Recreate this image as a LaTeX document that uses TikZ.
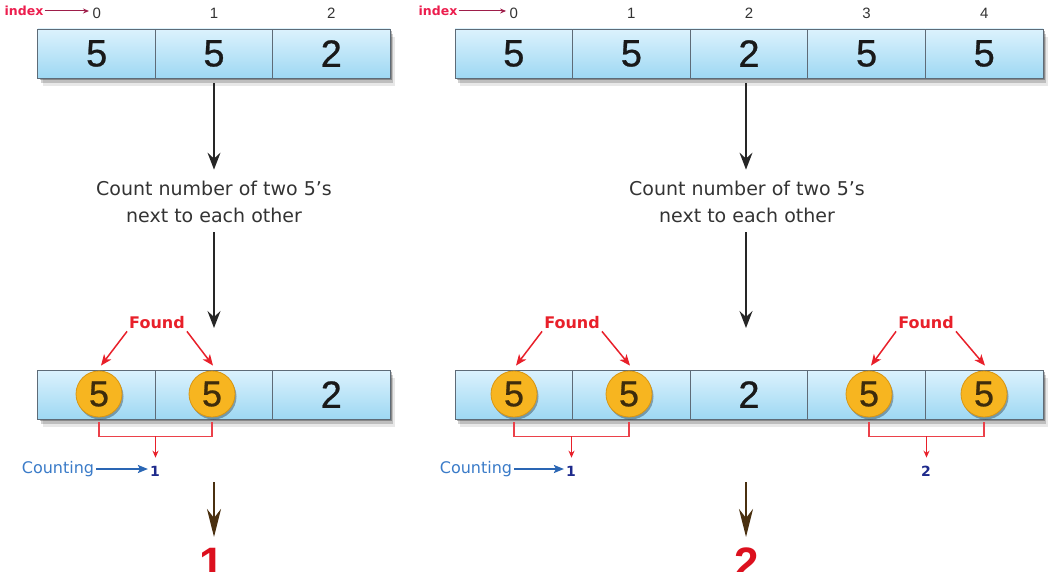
\documentclass[tikz,border=0pt]{standalone}
\usepackage{fontspec}
\setmainfont{Liberation Sans}
\newfontfamily\dv{DejaVu Sans}
\newfontfamily\digitfont[FakeBold=0.7]{Liberation Sans}
\usetikzlibrary{arrows.meta,shadows,calc}
\definecolor{celltop}{HTML}{DCF2FD}
\definecolor{cellbot}{HTML}{9ED8F3}
\definecolor{cellline}{HTML}{5E6B77}
\definecolor{coin}{HTML}{F7B520}
\definecolor{coinline}{HTML}{D99612}
\definecolor{coindigit}{HTML}{3E2C0C}
\definecolor{fred}{HTML}{E8202A}
\definecolor{idxred}{HTML}{EC1E4E}
\definecolor{idxarrow}{HTML}{9E1E4A}
\definecolor{cblue}{HTML}{3A7BC8}
\definecolor{cbluearr}{HTML}{2A66B4}
\definecolor{cnavy}{HTML}{1E2A8C}
\definecolor{brownarrow}{HTML}{4A3010}
\definecolor{resred}{HTML}{DC101E}
\definecolor{txtgray}{HTML}{333333}
\begin{document}
\begin{tikzpicture}[x=1pt,y=-1pt,
  cell/.style={draw=cellline, line width=0.9pt, top color=celltop, bottom color=cellbot,
    minimum width=117.6pt, minimum height=49pt, inner sep=0pt, font=\digitfont\fontsize{38}{38}\selectfont, text=black!90},
  arrbox/.style={fill=white, inner sep=0pt, minimum height=49pt,
    general shadow={shadow xshift=2pt, shadow yshift=-2pt, fill=black, opacity=0.28},
    general shadow={shadow xshift=3pt, shadow yshift=-5pt, fill=black, opacity=0.18},
    general shadow={shadow xshift=5pt, shadow yshift=-8pt, fill=black, opacity=0.09}},
  idx/.style={font=\fontsize{15}{15}\selectfont, text=txtgray},
  idxlabel/.style={font=\dv\bfseries\fontsize{12.5}{12.5}\selectfont, text=idxred, inner sep=1pt},
  idxarr/.style={draw=idxarrow, line width=1pt, -{Stealth[length=6pt,width=5pt]}},
  coinst/.style={circle, draw=coinline, line width=0.8pt, fill=coin, minimum size=46pt, inner sep=0pt,
    font=\digitfont\fontsize{36}{36}\selectfont, text=coindigit,
    general shadow={shadow xshift=1.5pt, shadow yshift=-2.5pt, fill=black, opacity=0.3}},
  counttext/.style={font=\dv\fontsize{19}{27}\selectfont, text=txtgray, align=center},
  blk/.style={draw=black!85, line width=1.6pt, -{Stealth[length=17pt,width=13pt,inset=6pt]}},
  found/.style={font=\dv\bfseries\fontsize{16}{16}\selectfont, text=fred, inner sep=2pt},
  redarr/.style={draw=fred, line width=1.5pt, -{Stealth[length=11pt,width=9pt,inset=3pt]}},
  bracket/.style={draw=fred!85, line width=1.2pt},
  redsmall/.style={draw=fred, line width=1.2pt, -{Stealth[length=7pt,width=6pt]}},
  counting/.style={font=\dv\fontsize{16}{16}\selectfont, text=cblue, inner sep=2pt},
  bluearr/.style={draw=cbluearr, line width=2pt, -{Stealth[length=10pt,width=8pt,inset=2pt]}},
  cnt/.style={font=\dv\bfseries\fontsize{14}{14}\selectfont, text=cnavy, inner sep=2pt},
  brownarr/.style={draw=brownarrow, line width=2.6pt, -{Stealth[length=28pt,width=14pt,inset=9pt]}},
  result/.style={font=\bfseries\fontsize{44}{44}\selectfont, text=resred, inner sep=0pt, anchor=base}
]
\useasboundingbox (0,0) rectangle (1051,572);
\clip (0,0) rectangle (1051,572);

% ================= LEFT =================
\node[idxlabel] (ixL) at (24,11) {index};
\node[idx] (iL0) at (96.7,13) {0};
\node[idx] (iL1) at (214,13) {1};
\node[idx] (iL2) at (331.3,13) {2};
\draw[idxarr] (ixL.east) -- (ixL.east -| iL0.west);

\node[arrbox, minimum width=352pt] (LboxT) at (214,53.5) {};
\node[cell] (L0) at (96.7,53.5) {5};
\node[cell] (L1) at (214,53.5) {5};
\node[cell] (L2) at (331.3,53.5) {2};

\node[counttext] (tL) at (214,202) {Count number of two 5’s\\next to each other};
\coordinate (tipL) at (214,328);
\draw[blk] ($(L1.south)+(0,5)$) -- ($(tL.north)+(0,-8)$);
\draw[blk] ($(tL.south)+(0,6)$) -- (tipL);

\node[arrbox, minimum width=352pt] (LboxB) at (214,394.5) {};
\node[cell] (LB0) at (96.7,394.5) {};
\node[cell] (LB1) at (214,394.5) {};
\node[cell] (LB2) at (331.3,394.5) {2};
\node[coinst] (cL0) at (99,394) {5};
\node[coinst] (cL1) at (212,394) {5};

\node[found] (fL) at (157,323) {Found};
\draw[redarr] (fL.south west) -- ($(cL0.north)+(2,-5)$);
\draw[redarr] (fL.south east) -- ($(cL1.north)+(1,-5)$);

\draw[bracket] ($(cL0.south)+(0,5)$) |- coordinate[pos=0.75] (bmL) ($(cL1.south)+(0,19)$) -- ($(cL1.south)+(0,5)$);
\node[counting] (kL) at (58,469) {Counting};
\node[cnt] (nL) at (155,471) {1};
\draw[redsmall] (bmL) -- ($(bmL |- nL.north)+(0,-6)$);
\draw[bluearr] (kL.east) -- (kL.east -| nL.west);

\coordinate (bLs) at (214,482);
\coordinate (bLe) at (214,537);
\draw[brownarr] (bLs) -- (bLe);
\node[result] (rL) at (212,578) {1};

% ================= RIGHT =================
\node[idxlabel] (ixR) at (438,11) {index};
\node[idx] (iR0) at (513.8,13) {0};
\node[idx] (iR1) at (631.4,13) {1};
\node[idx] (iR2) at (749,13) {2};
\node[idx] (iR3) at (866.6,13) {3};
\node[idx] (iR4) at (984.2,13) {4};
\draw[idxarr] (ixR.east) -- (ixR.east -| iR0.west);

\node[arrbox, minimum width=588pt] (RboxT) at (749,53.5) {};
\node[cell] (R0) at (513.8,53.5) {5};
\node[cell] (R1) at (631.4,53.5) {5};
\node[cell] (R2) at (749,53.5) {2};
\node[cell] (R3) at (866.6,53.5) {5};
\node[cell] (R4) at (984.2,53.5) {5};

\node[counttext] (tR) at (747,202) {Count number of two 5’s\\next to each other};
\coordinate (tipR) at (746,328);
\draw[blk] ($(R2.south)+(-3,5)$) -- ($(tR.north)+(-1,-8)$);
\draw[blk] ($(tR.south)+(-1,6)$) -- (tipR);

\node[arrbox, minimum width=588pt] (RboxB) at (749,394.5) {};
\node[cell] (RB0) at (513.8,394.5) {};
\node[cell] (RB1) at (631.4,394.5) {};
\node[cell] (RB2) at (749,394.5) {2};
\node[cell] (RB3) at (866.6,394.5) {};
\node[cell] (RB4) at (984.2,394.5) {};
\node[coinst] (cR0) at (514,394) {5};
\node[coinst] (cR1) at (629,394) {5};
\node[coinst] (cR3) at (869,394) {5};
\node[coinst] (cR4) at (984,394) {5};

\node[found] (fR1) at (572,323) {Found};
\draw[redarr] (fR1.south west) -- ($(cR0.north)+(2,-5)$);
\draw[redarr] (fR1.south east) -- ($(cR1.north)+(1,-5)$);
\node[found] (fR2) at (926,323) {Found};
\draw[redarr] (fR2.south west) -- ($(cR3.north)+(2,-5)$);
\draw[redarr] (fR2.south east) -- ($(cR4.north)+(1,-5)$);

\draw[bracket] ($(cR0.south)+(0,5)$) |- coordinate[pos=0.75] (bmR1) ($(cR1.south)+(0,19)$) -- ($(cR1.south)+(0,5)$);
\draw[bracket] ($(cR3.south)+(0,5)$) |- coordinate[pos=0.75] (bmR2) ($(cR4.south)+(0,19)$) -- ($(cR4.south)+(0,5)$);

\node[counting] (kR) at (476,469) {Counting};
\node[cnt] (nR1) at (571,471) {1};
\node[cnt] (nR2) at (926,471) {2};
\draw[redsmall] (bmR1) -- ($(bmR1 |- nR1.north)+(0,-6)$);
\draw[redsmall] (bmR2) -- ($(bmR2 |- nR2.north)+(0,-6)$);
\draw[bluearr] (kR.east) -- (kR.east -| nR1.west);

\coordinate (bRs) at (746,482);
\coordinate (bRe) at (746,537);
\draw[brownarr] (bRs) -- (bRe);
\node[result] (rR) at (747,578) {2};
\end{tikzpicture}
\end{document}
